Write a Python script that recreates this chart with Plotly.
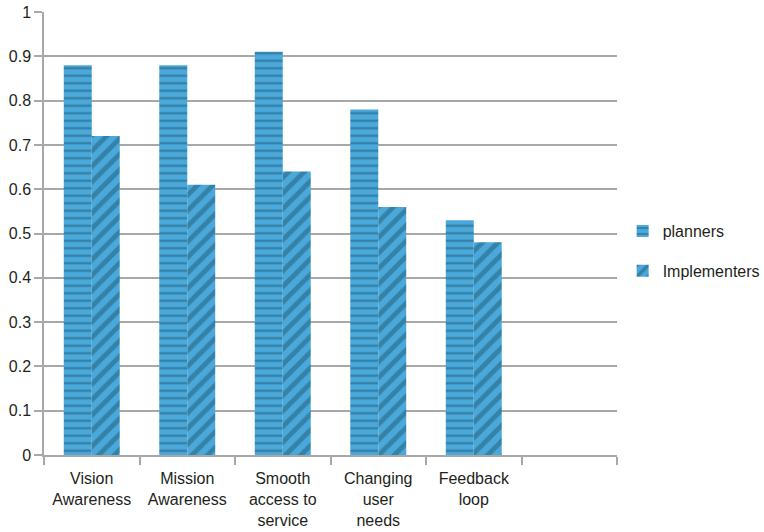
import plotly.graph_objects as go

# Categories (the last slot is intentionally left empty on the axis)
categories = ["Vision<br>Awareness", "Mission<br>Awareness", "Smooth<br>access to<br>service",
              "Changing<br>user<br>needs", "Feedback<br>loop", " "]
planners = [0.88, 0.88, 0.91, 0.78, 0.53, None]
implementers = [0.72, 0.61, 0.64, 0.56, 0.48, None]
y_ticks = [0, 0.1, 0.2, 0.3, 0.4, 0.5, 0.6, 0.7, 0.8, 0.9, 1]
y_tick_labels = ["0", "0.1", "0.2", "0.3", "0.4", "0.5", "0.6", "0.7", "0.8", "0.9", "1"]

BASE = "#4aa9da"
STRIPE = "#1f5b78"
GRID = "#a8a8a8"
FONT = "Liberation Sans, Arial, sans-serif"

fig = go.Figure()
fig.add_trace(go.Bar(
    x=categories, y=planners, name="planners", legendgroup="a",
    marker=dict(color=BASE, line=dict(width=0),
                pattern=dict(shape="-", fgcolor=STRIPE, bgcolor=BASE,
                             size=7.5, solidity=0.32, fillmode="overlay")),
))
fig.add_trace(go.Bar(
    x=categories, y=implementers, name="Implementers", legendgroup="b",
    marker=dict(color=BASE, line=dict(width=0),
                pattern=dict(shape="/", fgcolor=STRIPE, bgcolor=BASE,
                             size=11, solidity=0.45, fillmode="overlay")),
))

fig.update_layout(
    width=764, height=532,
    margin=dict(l=44, r=147, t=12, b=77),
    paper_bgcolor="white", plot_bgcolor="white",
    barmode="group", bargap=0.414, bargroupgap=0,
    font=dict(family=FONT, size=16, color="#231f20"),
    showlegend=True,
    legend=dict(xref="container", yref="container", x=0.815, y=0.528,
                xanchor="left", yanchor="middle",
                tracegroupgap=16, font=dict(size=16), bgcolor="rgba(0,0,0,0)"),
    xaxis=dict(
        type="category", categoryorder="array", categoryarray=categories,
        range=[-0.5, 5.5], tickson="boundaries", ticks="outside", ticklen=8,
        tickcolor=GRID, tickwidth=1.5, showline=True, linecolor=GRID, linewidth=1.5,
        showgrid=False, tickfont=dict(size=16), ticklabelstandoff=8, fixedrange=True,
        automargin=False,
    ),
    yaxis=dict(
        range=[0, 1], tickvals=y_ticks, ticktext=y_tick_labels,
        ticks="outside", ticklen=8, tickcolor=GRID, tickwidth=1.5,
        showline=True, linecolor=GRID, linewidth=1.5,
        showgrid=True, gridcolor=GRID, gridwidth=1.5, zeroline=False,
        tickfont=dict(size=16), fixedrange=True, automargin=False,
    ),
)

fig.write_html("out.html")
